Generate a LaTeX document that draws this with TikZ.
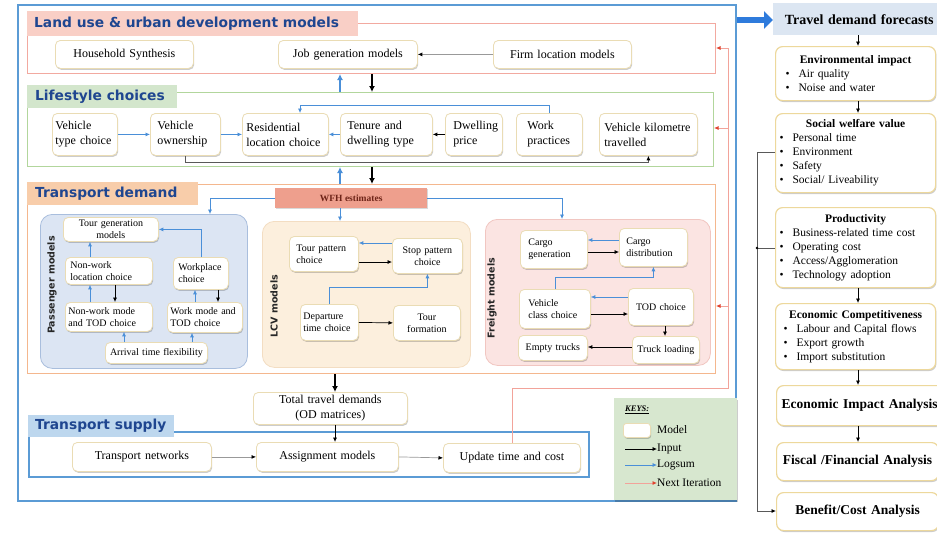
\documentclass[tikz,border=0pt]{standalone}
\usepackage{fontspec}
\setmainfont{Liberation Serif}
\newfontfamily\hdrfont{DejaVu Sans}
\usetikzlibrary{arrows.meta,shadows,calc}
\definecolor{outerblue}{HTML}{5B9BD5}
\definecolor{titleblue}{HTML}{1F4690}
\definecolor{luFill}{HTML}{F9CFC6}
\definecolor{luLine}{HTML}{F2A9A0}
\definecolor{lsFill}{HTML}{D3E6CC}
\definecolor{lsLine}{HTML}{B2D69C}
\definecolor{tdFill}{HTML}{F8CDAA}
\definecolor{tdLine}{HTML}{F4B78E}
\definecolor{tsFill}{HTML}{BDD7EE}
\definecolor{wfhFill}{HTML}{EE9F8D}
\definecolor{wfhText}{HTML}{6E2418}
\definecolor{paxFill}{HTML}{DCE5F3}
\definecolor{paxLine}{HTML}{A9BEDD}
\definecolor{lcvFill}{HTML}{FCEFDD}
\definecolor{lcvLine}{HTML}{F3DDC2}
\definecolor{frFill}{HTML}{FBE4E2}
\definecolor{frLine}{HTML}{F1C6C1}
\definecolor{nodeLine}{HTML}{EADCB4}
\definecolor{rcLine}{HTML}{EDD89C}
\definecolor{tdfFill}{HTML}{DCE6F2}
\definecolor{keyFill}{HTML}{D7E7CF}
\definecolor{logblue}{HTML}{4A8FD8}
\definecolor{iterred}{HTML}{E0442F}
\definecolor{iterline}{HTML}{F2A39A}
\definecolor{bigblue}{HTML}{2E7BDC}
\tikzset{
 mbox/.style={draw=nodeLine, fill=white, rounded corners=5pt, line width=0.8pt,
   drop shadow={shadow xshift=0.8pt,shadow yshift=-1.4pt,fill=black,opacity=0.2},
   anchor=north west, inner ysep=1pt},
 rcbox/.style={draw=rcLine, line width=1.2pt, rounded corners=7pt, align=left,
   font=\fontsize{11.5}{14}\selectfont},
 rcbig/.style={font=\bfseries\fontsize{13.5}{16}\selectfont},
 fbig/.style={font=\fontsize{12}{15}\selectfont},
 fsmall/.style={font=\fontsize{10}{12}\selectfont},
 secframe/.style={anchor=north west, inner sep=0pt, line width=1pt},
 hdrbox/.style={anchor=north west, inner sep=0pt, draw=none},
 hdrtext/.style={anchor=west, inner sep=0pt, font=\hdrfont\bfseries\fontsize{13.8}{16}\selectfont, text=titleblue},
 grp/.style={anchor=north west, inner sep=0pt, rounded corners=12pt, line width=0.8pt},
 grplabel/.style={rotate=90, font=\hdrfont\bfseries\fontsize{9.5}{11}\selectfont, text=black!85},
 inarr/.style={draw=black, line width=0.7pt, -{Latex[length=4.5pt,width=4pt]}},
 logarr/.style={draw=logblue, line width=0.7pt, -{Latex[length=4.5pt,width=4pt]}},
 grayarr/.style={draw=black!40, line width=0.7pt, -{Latex[length=4.5pt,width=4pt,color=black]}},
 darkarr/.style={draw=black!65, line width=0.8pt, -{Latex[length=4.5pt,width=4pt,color=black]}},
 bigin/.style={draw=black, line width=1.4pt, -{Latex[length=6pt,width=6pt]}},
 biglog/.style={draw=logblue, line width=1.4pt, -{Latex[length=6pt,width=6pt]}},
 iterl/.style={draw=iterline, line width=0.8pt},
 iterarr/.style={draw=iterline, line width=0.8pt, -{Latex[length=4.5pt,width=4pt,color=iterred]}},
 keytxt/.style={anchor=west, inner sep=0pt, font=\fontsize{11.5}{13}\selectfont},
}
\newcommand{\bx}[8][]{%
 \pgfmathsetmacro{\bxtw}{#5-2*#7}%
 \node[mbox,#1,minimum width=#5pt,minimum height=#6pt,inner xsep=#7pt,text width=\bxtw pt] (#2) at (#3,#4) {#8};}
\newcommand{\rctitle}[1]{{\centering\bfseries #1\par}}
\newcommand{\bul}{\makebox[13pt][l]{\textbullet}}
\begin{document}
\begin{tikzpicture}[x=1pt,y=-1pt]
\useasboundingbox (0,0) rectangle (937,533);
\fill[white] (0,0) rectangle (937,533);

% outer frame
\node[secframe, draw=outerblue, line width=1.5pt, minimum width=718pt, minimum height=496pt] (outer) at (17,4) {};

% section frames
\node[secframe, draw=luLine, minimum width=688pt, minimum height=50pt] (landuse) at (27,23) {};
\node[hdrbox, fill=luFill, minimum width=331pt, minimum height=25pt] (luhead) at (27,11) {};
\node[hdrtext] (lutitle) at ([xshift=7pt]luhead.west) {Land use \& urban development models};

\node[secframe, draw=lsLine, minimum width=686pt, minimum height=74pt] (lifestyle) at (27,92) {};
\node[hdrbox, fill=lsFill, minimum width=150pt, minimum height=23pt] (lshead) at (27,85) {};
\node[hdrtext] (lstitle) at ([xshift=8pt]lshead.west) {Lifestyle choices};

\node[secframe, draw=tdLine, minimum width=688pt, minimum height=189pt] (tdemand) at (27,184) {};
\node[hdrbox, fill=tdFill, minimum width=171pt, minimum height=23pt] (tdhead) at (27,182) {};
\node[hdrtext] (tdtitle) at ([xshift=8pt]tdhead.west) {Transport demand};

\node[secframe, draw=outerblue, line width=1.5pt, minimum width=560pt, minimum height=45pt] (tsupply) at (28,431) {};
\node[hdrbox, fill=tsFill, minimum width=146pt, minimum height=22pt] (tshead) at (28,415) {};
\node[hdrtext] (tstitle) at ([xshift=7pt]tshead.west) {Transport supply};

% land use nodes
\bx[fbig,align=center]{hh}{55}{40}{138}{28}{6}{Household Synthesis}
\bx[fbig,align=center]{jobgen}{278}{40}{139}{28}{6}{Job generation models}
\bx[fbig,align=center]{firm}{493}{40}{138}{28}{6}{Firm location models}
\draw[grayarr] (firm.west) -- (jobgen.east);

% lifestyle nodes
\bx[fbig,align=left]{vtype}{52}{113}{65}{42}{3}{Vehicle\\type~choice}
\bx[fbig,align=left]{vown}{150}{113}{70}{42}{7}{Vehicle\\ownership}
\bx[fbig,align=left]{resloc}{242}{113}{86}{42}{4}{Residential\\location~choice}
\bx[fbig,align=left]{tenure}{340}{113}{92}{42}{7}{Tenure and\\dwelling type}
\bx[fbig,align=left]{dwprice}{445}{113}{57}{42}{8}{Dwelling\\price}
\bx[fbig,align=left]{workpr}{516}{113}{66}{42}{11}{Work\\practices}
\bx[fbig,align=left]{vkt}{599}{113}{98}{42}{5}{Vehicle~kilometre\\travelled}
\draw[logarr] (vtype.east) -- (vown.west);
\draw[logarr] (vown.east) -- (resloc.west);
\draw[logarr] (tenure.west) -- (resloc.east);
\draw[inarr] (dwprice.west) -- (tenure.east);
\coordinate (yw) at (0,105);
\coordinate (xr) at (300,0);
\draw[logarr] (workpr.north) -- (workpr.north |- yw) -- (xr |- yw) -- (resloc.north -| xr);
\coordinate (yv) at (0,162);
\draw[darkarr] (vown.south) -- (vown.south |- yv) -- (vkt.south |- yv) -- (vkt.south);

% arrows between frames
\coordinate (xb) at (340,0);
\coordinate (xk) at (372,0);
\draw[biglog] (lifestyle.north -| xb) -- (landuse.south -| xb);
\draw[bigin] (landuse.south -| xk) -- (lifestyle.north -| xk);
\draw[biglog] (tdemand.north -| xb) -- (lifestyle.south -| xb);
\draw[bigin] (lifestyle.south -| xk) -- (tdemand.north -| xk);

% WFH
\node[anchor=north west, fill=wfhFill, minimum width=152pt, minimum height=20pt, inner sep=0pt,
  font=\bfseries\fontsize{9.5}{11}\selectfont, text=wfhText,
  drop shadow={shadow xshift=0.8pt,shadow yshift=-1.2pt,fill=black,opacity=0.15}] (wfh) at (275,188) {WFH estimates};

% group boxes
\node[grp, fill=paxFill, draw=paxLine, minimum width=207pt, minimum height=154pt] (pax) at (40,214) {};
\node[grplabel] (paxl) at (52,285) {Passenger models};
\node[grp, fill=lcvFill, draw=lcvLine, minimum width=208pt, minimum height=146pt] (lcv) at (262,221) {};
\node[grplabel] (lcvl) at (274,306) {LCV models};
\node[grp, fill=frFill, draw=frLine, minimum width=225pt, minimum height=146pt] (fr) at (485,219) {};
\node[grplabel] (frl) at (492,298) {Freight models};

\coordinate (xpw) at (210,0);
\coordinate (xfw) at (562,0);
\draw[logarr] (wfh.west) -| (pax.north -| xpw);
\draw[logarr] (wfh.east) -| (fr.north -| xfw);
\draw[logarr] (wfh.south -| xb) -- (lcv.north -| xb);

% passenger nodes
\bx[fsmall,align=center]{tourgen}{63}{217}{95}{24}{4}{Tour generation\\models}
\bx[fsmall,align=left]{nwloc}{65}{257}{87}{27}{5}{Non-work\\location~choice}
\bx[fsmall,align=left]{workpl}{173}{257}{55}{32}{5}{Workplace\\choice}
\bx[fsmall,align=left]{nwmode}{65}{302}{87}{29}{3}{Non-work~mode\\and~TOD~choice}
\bx[fsmall,align=left]{workmode}{167}{302}{75}{30}{3}{Work~mode~and\\TOD~choice}
\bx[fsmall,align=center]{arrival}{105}{342}{102}{21}{3}{Arrival time flexibility}
\coordinate (xp1) at (90,0);
\coordinate (xp2) at (115,0);
\coordinate (xp3) at (195,0);
\coordinate (xp4) at (218,0);
\coordinate (xp5) at (124,0);
\coordinate (xp6) at (192,0);
\draw[logarr] (nwloc.north -| xp1) -- (tourgen.south -| xp1);
\draw[logarr] (workpl.north) |- (tourgen.east);
\draw[logarr] (nwmode.north -| xp1) -- (nwloc.south -| xp1);
\draw[inarr] (nwloc.south -| xp2) -- (nwmode.north -| xp2);
\draw[logarr] (workmode.north -| xp3) -- (workpl.south -| xp3);
\draw[inarr] (workpl.south -| xp4) -- (workmode.north -| xp4);
\draw[logarr] (arrival.north -| xp5) -- (nwmode.south -| xp5);
\draw[logarr] (arrival.north -| xp6) -- (workmode.south -| xp6);

% LCV nodes
\bx[fsmall,align=left]{tourpat}{289}{236}{69}{35}{7}{Tour pattern\\choice}
\bx[fsmall,align=center]{stoppat}{392}{238}{70}{35}{4}{Stop pattern\\choice}
\bx[fsmall,align=left]{depart}{300}{304}{58}{36}{3}{Departure\\time~choice}
\bx[fsmall,align=center]{tourform}{393}{305}{67}{35}{4}{Tour\\formation}
\coordinate (yl1) at (0,243);
\coordinate (yl2) at (0,262);
\coordinate (yl3) at (0,287);
\draw[logarr] (stoppat.west |- yl1) -- (tourpat.east |- yl1);
\draw[inarr] (tourpat.east |- yl2) -- (stoppat.west |- yl2);
\draw[logarr] (depart.north) -- (depart.north |- yl3) -- (stoppat.south |- yl3) -- (stoppat.south);
\draw[inarr] (depart.east) -- (tourform.west);

% freight nodes
\bx[fsmall,align=left]{cargogen}{520}{230}{67}{38}{8}{Cargo\\generation}
\bx[fsmall,align=left]{cargodist}{619}{228}{68}{38}{7}{Cargo\\distribution}
\bx[fsmall,align=left]{vclass}{519}{289}{71}{39}{9}{Vehicle\\class~choice}
\bx[fsmall,align=center]{tod}{628}{288}{65}{37}{4}{TOD choice}
\bx[fsmall,align=center]{empty}{518}{335}{69}{25}{3}{Empty trucks}
\bx[fsmall,align=center]{truckload}{632}{336}{67}{27}{3}{Truck loading}
\coordinate (yf1) at (0,240);
\coordinate (yf2) at (0,252);
\coordinate (yf3) at (0,277);
\coordinate (yf4) at (0,297);
\coordinate (yf5) at (0,314);
\coordinate (yf6) at (0,347);
\coordinate (xf1) at (665,0);
\draw[logarr] (cargodist.west |- yf1) -- (cargogen.east |- yf1);
\draw[inarr] (cargogen.east |- yf2) -- (cargodist.west |- yf2);
\draw[logarr] (vclass.north) -- (vclass.north |- yf3) -- (cargodist.south |- yf3) -- (cargodist.south);
\draw[logarr] (tod.west |- yf4) -- (vclass.east |- yf4);
\draw[inarr] (vclass.east |- yf5) -- (tod.west |- yf5);
\draw[inarr] (tod.south -| xf1) -- (truckload.north -| xf1);
\draw[inarr] (truckload.west |- yf6) -- (empty.east |- yf6);

% transport supply
\bx[fbig,align=center]{total}{253}{392}{154}{32}{6}{Total travel demands\\(OD matrices)}
\bx[fbig,align=center]{tnet}{72}{442}{139}{29}{6}{Transport networks}
\bx[fbig,align=center]{assign}{256}{442}{142}{29}{6}{Assignment models}
\bx[fbig,align=center]{update}{443}{443}{137}{29}{6}{Update time and cost}
\coordinate (xt) at (335,0);
\draw[bigin] (tdemand.south -| xt) -- (total.north -| xt);
\draw[inarr] (total.south -| xt) -- (assign.north -| xt);
\draw[grayarr] (tnet.east) -- (assign.west);
\draw[grayarr] (assign.east) -- (update.west);

% next iteration loop
\coordinate (rc1) at (512,388);
\coordinate (rc2) at (728,388);
\coordinate (rc3) at (728,48);
\coordinate (rc4) at (728,128);
\coordinate (rc5) at (728,306);
\draw[iterl] (update.north -| rc1) -- (rc1) -- (rc2) -- (rc3);
\draw[iterarr] (rc3) -- (landuse.east |- rc3);
\draw[iterarr] (rc4) -- (lifestyle.east |- rc4);
\draw[iterarr] (rc5) -- (tdemand.east |- rc5);

% keys
\node[anchor=north west, fill=keyFill, minimum width=123pt, minimum height=102pt, inner sep=0pt,
  drop shadow={shadow xshift=1pt,shadow yshift=-1.5pt,fill=black,opacity=0.2}] (keys) at (614,398) {};
\node[anchor=west, inner sep=0pt, font=\bfseries\itshape\fontsize{8.5}{10}\selectfont] (keyt) at (625,410) {\underline{KEYS:}};
\node[mbox, rounded corners=3pt, minimum width=27pt, minimum height=14pt, inner sep=0pt] (keym) at (623,423) {};
\node[keytxt] (keyml) at (657,430) {Model};
\coordinate (ki1) at (625,449);
\coordinate (ki2) at (625,465);
\coordinate (ki3) at (625,483);
\node[keytxt] (keyin) at (657,449) {Input};
\node[keytxt] (keylog) at (657,465) {Logsum};
\node[keytxt] (keyit) at (657,483) {Next Iteration};
\draw[inarr] (ki1) -- (keyin.west);
\draw[logarr] (ki2) -- (keylog.west);
\draw[iterarr] (ki3) -- (keyit.west);

% right column
\coordinate (ya) at (0,20);
\node[anchor=north west, fill=tdfFill, minimum width=172pt, minimum height=32pt, inner xsep=2pt, text width=168pt,
  align=center, font=\bfseries\fontsize{14}{16}\selectfont] (tdf) at (773,3) {Travel demand forecasts};
\draw[line width=6pt, draw=bigblue, -{Triangle[length=9pt,width=17pt]}] (outer.east |- ya) -- (tdf.west |- ya);

\bx[rcbox]{env}{775}{46}{160}{54}{4}{\rctitle{Environmental impact}\hspace*{6pt}\bul Air quality\\\hspace*{6pt}\bul Noise and water}
\bx[rcbox]{social}{775}{113}{160}{79}{4}{\rctitle{Social welfare value}\bul Personal time\\\bul Environment\\\bul Safety\\\bul Social/ Liveability}
\bx[rcbox]{prod}{775}{207}{160}{80}{4}{\rctitle{Productivity}\bul Business-related time cost\\\bul Operating cost\\\bul Access/Agglomeration\\\bul Technology adoption}
\bx[rcbox]{econ}{775}{303}{160}{66}{4}{\rctitle{Economic Competitiveness}\hspace*{4pt}\bul Labour and Capital flows\\\hspace*{4pt}\bul Export growth\\\hspace*{4pt}\bul Import substitution}
\bx[rcbox,rcbig,align=left]{eia}{776}{385}{175}{40}{5}{Economic~Impact~Analysis}
\bx[rcbox,rcbig,align=center]{fiscal}{776}{442}{162}{38}{1}{Fiscal~/Financial~Analysis}
\bx[rcbox,rcbig,align=center]{bca}{776}{492}{162}{38}{1}{Benefit/Cost~Analysis}

\coordinate (rx) at (858,0);
\draw[inarr] (tdf.south -| rx) -- (env.north -| rx);
\draw[inarr] (env.south -| rx) -- (social.north -| rx);
\draw[inarr] (prod.south -| rx) -- (econ.north -| rx);
\draw[inarr] (econ.south -| rx) -- (eia.north -| rx);
\draw[inarr] (eia.south -| rx) -- (fiscal.north -| rx);

\coordinate (bk1) at (757,152);
\coordinate (bk2) at (757,248);
\coordinate (bk3) at (757,511);
\draw[darkarr] (social.west |- bk1) -- (bk1) -- (bk3) -- (bca.west |- bk3);
\draw[draw=black!65, line width=0.8pt] (prod.west |- bk2) -- (bk2);
\fill[black] (bk2) circle (1.3pt);
\end{tikzpicture}
\end{document}
